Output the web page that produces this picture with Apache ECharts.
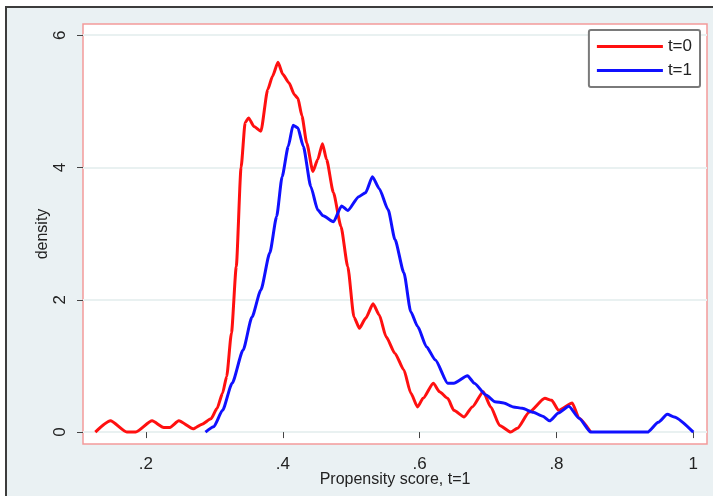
<!DOCTYPE html>
<html>
<head>
<meta charset="utf-8">
<script src="https://cdn.jsdelivr.net/npm/echarts@6/dist/echarts.min.js"></script>
<style>
  html, body { margin: 0; padding: 0; background: #ffffff; }
  #chart { width: 713px; height: 496px; }
</style>
</head>
<body>
<div id="chart"></div>
<script>
// kernel density, t=0 (red)
const scoreT0 = [0.126, 0.148, 0.172, 0.185, 0.209, 0.226, 0.235, 0.248, 0.269, 0.282, 0.295, 0.304, 0.312, 0.318, 0.325, 0.332, 0.339, 0.345, 0.350, 0.358, 0.368, 0.378, 0.385, 0.393, 0.400, 0.409, 0.417, 0.422, 0.428, 0.435, 0.444, 0.451, 0.458, 0.464, 0.474, 0.485, 0.495, 0.504, 0.512, 0.521, 0.532, 0.541, 0.551, 0.564, 0.577, 0.587, 0.597, 0.605, 0.620, 0.629, 0.641, 0.650, 0.665, 0.677, 0.693, 0.704, 0.717, 0.733, 0.743, 0.760, 0.783, 0.793, 0.803, 0.823, 0.833, 0.850];
const densT0 = [0, 0.17, 0, 0, 0.17, 0.07, 0.07, 0.17, 0.05, 0.12, 0.20, 0.36, 0.59, 0.84, 1.5, 2.5, 4.0, 4.68, 4.75, 4.62, 4.55, 5.18, 5.38, 5.59, 5.41, 5.28, 5.1, 5.05, 4.78, 4.37, 3.94, 4.12, 4.36, 4.12, 3.62, 3.11, 2.5, 1.74, 1.57, 1.72, 1.94, 1.77, 1.44, 1.19, 0.94, 0.59, 0.38, 0.51, 0.74, 0.61, 0.51, 0.33, 0.23, 0.38, 0.61, 0.38, 0.1, 0, 0.06, 0.30, 0.51, 0.48, 0.33, 0.44, 0.21, 0];

// kernel density, t=1 (blue)
const scoreT1 = [0.287, 0.299, 0.312, 0.326, 0.342, 0.355, 0.368, 0.381, 0.391, 0.399, 0.408, 0.415, 0.422, 0.430, 0.441, 0.451, 0.459, 0.474, 0.486, 0.495, 0.511, 0.521, 0.531, 0.541, 0.554, 0.564, 0.577, 0.587, 0.597, 0.610, 0.623, 0.641, 0.650, 0.670, 0.680, 0.697, 0.710, 0.723, 0.737, 0.750, 0.766, 0.780, 0.790, 0.803, 0.818, 0.833, 0.850, 0.933, 0.949, 0.962, 0.972, 1.0];
const densT1 = [0, 0.08, 0.33, 0.74, 1.24, 1.74, 2.15, 2.71, 3.26, 3.86, 4.32, 4.64, 4.6, 4.32, 3.71, 3.36, 3.27, 3.18, 3.42, 3.35, 3.56, 3.62, 3.86, 3.68, 3.36, 2.91, 2.41, 1.82, 1.6, 1.29, 1.09, 0.74, 0.74, 0.85, 0.74, 0.56, 0.46, 0.44, 0.38, 0.36, 0.3, 0.24, 0.17, 0.29, 0.39, 0.21, 0, 0, 0.15, 0.27, 0.23, 0];

const xTicks = [0.2, 0.4, 0.6, 0.8, 1];
const yTicks = [0, 2, 4, 6];
const seriesNames = ['t=0', 't=1'];

const pairs = (xs, ys) => xs.map((x, i) => [x, ys[i]]);
const tickFmt = v => String(v).replace(/^0\./, '.');

let myChart = echarts.init(document.getElementById('chart'));
const option = {
  backgroundColor: '#ffffff',
  animation: false,
  textStyle: { fontFamily: 'Liberation Sans, Arial, sans-serif' },
  graphic: [
    {
      type: 'rect',
      shape: { x: 6, y: 7, width: 720, height: 500 },
      style: { fill: '#eaf1f3', stroke: '#3c3c3c', lineWidth: 2 },
      z: -10
    }
  ],
  grid: {
    left: 83, right: 6, top: 24, bottom: 52,
    outerBoundsMode: 'none',
    containLabel: false,
    show: true,
    backgroundColor: '#ffffff',
    borderColor: '#f39a9a',
    borderWidth: 1.5
  },
  legend: {
    orient: 'vertical',
    right: 13, top: 30,
    data: seriesNames,
    icon: 'rect',
    backgroundColor: '#ffffff',
    borderColor: '#7a7a7a',
    borderWidth: 2,
    borderRadius: 2,
    padding: [8, 8, 8, 8],
    itemWidth: 66,
    itemHeight: 3,
    itemGap: 7,
    textStyle: { fontSize: 17, color: '#222' }
  },
  xAxis: {
    type: 'value',
    min: 0.108, max: 1.02,
    name: 'Propensity score, t=1',
    nameLocation: 'middle',
    nameGap: 28,
    nameMoveOverlap: false,
    nameTextStyle: { fontSize: 16, color: '#222' },
    axisLine: { show: false },
    axisTick: { show: true, customValues: xTicks, length: 6, lineStyle: { color: '#444' } },
    axisLabel: { customValues: xTicks, formatter: tickFmt, fontSize: 17, color: '#222', margin: 12 },
    splitLine: { show: false }
  },
  yAxis: {
    type: 'value',
    min: -0.18, max: 6.17,
    name: 'density',
    nameLocation: 'middle',
    nameGap: 32,
    nameMoveOverlap: false,
    nameTextStyle: { fontSize: 16, color: '#222' },
    axisLine: { show: false },
    axisTick: { show: true, customValues: yTicks, length: 6, lineStyle: { color: '#444' } },
    axisLabel: { customValues: yTicks, rotate: 90, fontSize: 17, color: '#222', margin: 14 },
    splitLine: { show: true, lineStyle: { color: '#e9f1f1', width: 2 } }
  },
  series: [
    {
      name: seriesNames[0],
      type: 'line',
      data: pairs(scoreT0, densT0),
      symbol: 'none',
      smooth: 0.2,
      smoothMonotone: 'x',
      lineStyle: { color: '#ff1010', width: 3 },
      itemStyle: { color: '#ff1010' },
      z: 2
    },
    {
      name: seriesNames[1],
      type: 'line',
      data: pairs(scoreT1, densT1),
      symbol: 'none',
      smooth: 0.2,
      smoothMonotone: 'x',
      lineStyle: { color: '#1010ff', width: 3 },
      itemStyle: { color: '#1010ff' },
      z: 3
    }
  ]
};
myChart.setOption(option, true);
</script>
</body>
</html>
